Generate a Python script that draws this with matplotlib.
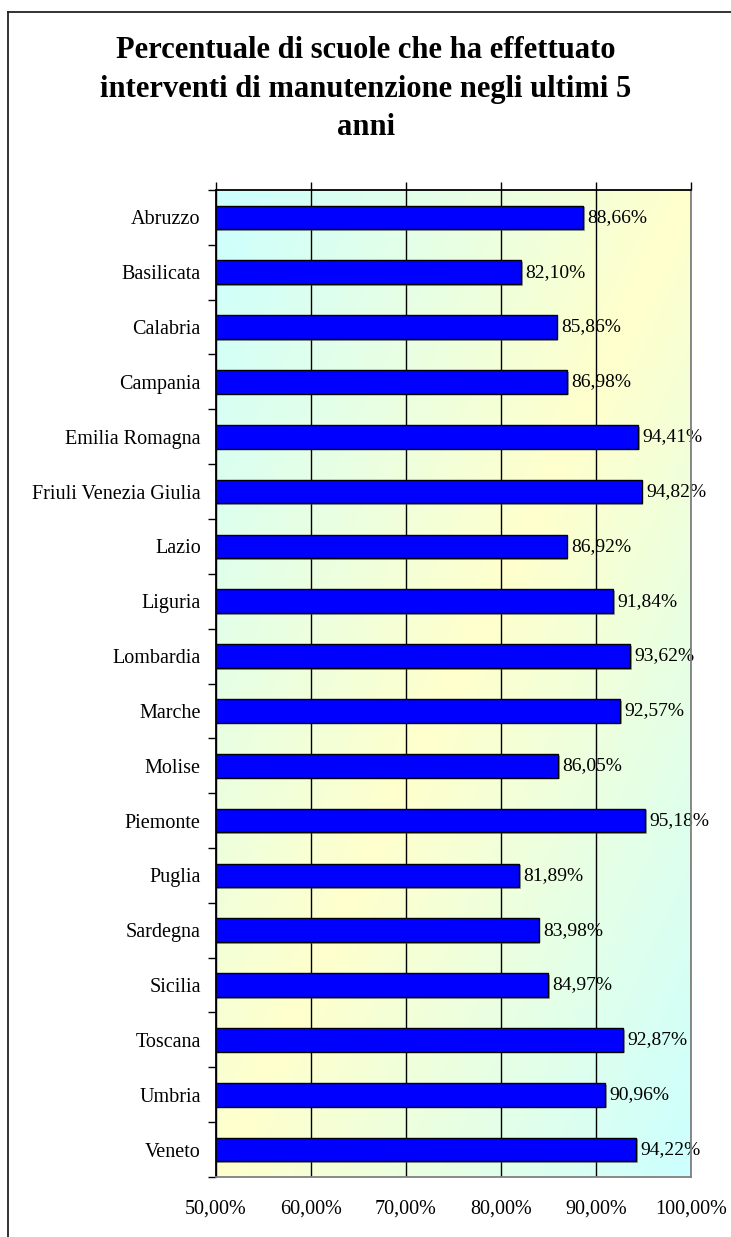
import numpy as np
import matplotlib
matplotlib.use("Agg")
import matplotlib.pyplot as plt
from matplotlib.colors import LinearSegmentedColormap
from matplotlib.lines import Line2D
import matplotlib.patheffects as pe

plt.rcParams['font.family'] = ['Liberation Serif', 'DejaVu Serif']

regions = ["Abruzzo", "Basilicata", "Calabria", "Campania", "Emilia Romagna",
           "Friuli Venezia Giulia", "Lazio", "Liguria", "Lombardia", "Marche",
           "Molise", "Piemonte", "Puglia", "Sardegna", "Sicilia", "Toscana",
           "Umbria", "Veneto"]
percent = [88.66, 82.10, 85.86, 86.98, 94.41, 94.82, 86.92, 91.84, 93.62,
           92.57, 86.05, 95.18, 81.89, 83.98, 84.97, 92.87, 90.96, 94.22]
x_ticks = [50, 60, 70, 80, 90, 100]
title = "Percentuale di scuole che ha effettuato\ninterventi di manutenzione negli ultimi 5\nanni"


def it_pct(v):
    return f"{v:.2f}%".replace(".", ",")


W, H, DPI = 731, 1237, 100
fig = plt.figure(figsize=(W / DPI, H / DPI), dpi=DPI)

# outer frame (left and top edges)
fig.add_artist(Line2D([8 / W, 8 / W], [0, 1 - 12 / H], transform=fig.transFigure,
                      color="#222222", lw=1.3))
fig.add_artist(Line2D([8 / W, 1], [1 - 12 / H, 1 - 12 / H], transform=fig.transFigure,
                      color="#222222", lw=1.3))

fig.text(366 / W, 1 - 89 / H, title, ha="center", va="center", fontsize=22,
         fontweight="bold", linespacing=1.42)

left, right, top, bottom = 216, 691, 190, 1177
ax = fig.add_axes([left / W, 1 - bottom / H, (right - left) / W, (bottom - top) / H])

# diagonal background gradient: cyan -> yellow -> cyan
cmap = LinearSegmentedColormap.from_list("bg", ["#CCFFFF", "#FFFFCC", "#CCFFFF"])
u = np.linspace(0, 1, 300)
v = np.linspace(0, 1, 600)
U, V = np.meshgrid(u, v)
ax.imshow((U + V) / 2, cmap=cmap, extent=[0, 1, 0, 1], origin="upper",
          transform=ax.transAxes, aspect="auto", zorder=0, vmin=0, vmax=1)

ypos = np.arange(len(regions))
bars = ax.barh(ypos, percent, height=0.43, color="#0000FF", edgecolor="black",
               linewidth=1.0, zorder=3)
for b in bars:
    b.set_path_effects([pe.SimplePatchShadow(offset=(1.2, -1.2), shadow_rgbFace="#555555",
                                             alpha=0.5), pe.Normal()])

for y, val in zip(ypos, percent):
    ax.annotate(it_pct(val), (val, y), xytext=(3, 0), textcoords="offset points",
                ha="left", va="center", fontsize=14, zorder=4)

ax.set_xlim(50, 100)
ax.set_ylim(len(regions) - 0.5, -0.5)
ax.set_xticks(x_ticks)
ax.set_xticklabels([it_pct(t) for t in x_ticks])
ax.set_yticks(ypos)
ax.set_yticklabels(regions)
ax.set_yticks(np.arange(len(regions) + 1) - 0.5, minor=True)

ax.xaxis.grid(True, color="black", linewidth=1.0, zorder=1)
ax.set_axisbelow(True)

ax.tick_params(axis="x", which="major", top=True, bottom=False, labeltop=False,
               labelbottom=True, direction="out", length=6, width=1, labelsize=14.5, pad=10)
ax.tick_params(axis="y", which="major", length=0, labelsize=14.5, pad=11)
ax.tick_params(axis="y", which="minor", length=6, width=1, direction="out")

ax.spines["top"].set_color("black")
ax.spines["left"].set_color("black")
ax.spines["right"].set_color("#808080")
ax.spines["bottom"].set_color("#808080")
for s in ax.spines.values():
    s.set_linewidth(1.3)
    s.set_zorder(5)

fig.savefig("out.png", dpi=DPI)
